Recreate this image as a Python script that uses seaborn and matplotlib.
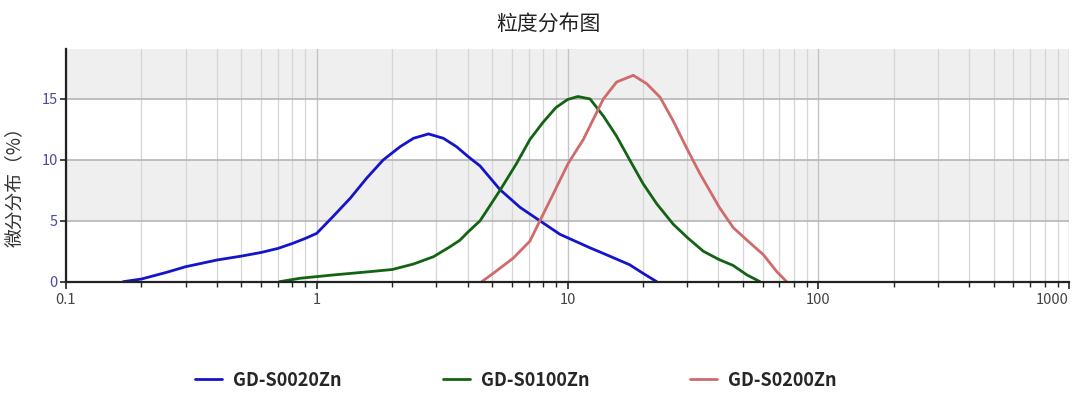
import numpy as np
import pandas as pd
import matplotlib
matplotlib.use("Agg")
import matplotlib.pyplot as plt
from matplotlib.ticker import LogLocator, FixedLocator, FixedFormatter, NullFormatter
import seaborn as sns

# ---------------- data ----------------
series_names = ["GD-S0020Zn", "GD-S0100Zn", "GD-S0200Zn"]

x_s0020 = [0.169, 0.2, 0.252, 0.3, 0.4, 0.5, 0.6, 0.7, 0.8, 0.9, 1.0, 1.16, 1.36, 1.58, 1.84,
           2.15, 2.43, 2.79, 3.2, 3.61, 4.02, 4.48, 5.38, 6.47, 7.76, 9.33, 12.3, 14.8, 17.7,
           20.0, 22.7]
y_s0020 = [0.0, 0.22, 0.77, 1.23, 1.78, 2.1, 2.4, 2.73, 3.14, 3.55, 3.97, 5.34, 6.85, 8.49, 9.99,
           11.08, 11.77, 12.13, 11.77, 11.08, 10.26, 9.5, 7.56, 6.1, 5.0, 3.89, 2.78, 2.08, 1.39,
           0.69, 0.0]

x_s0100 = [0.71, 0.857, 1.16, 1.58, 2.0, 2.43, 2.92, 3.4, 3.72, 4.02, 4.48, 5.38, 6.27, 7.08,
           8.0, 9.0, 10.0, 11.0, 12.3, 13.9, 15.7, 17.7, 20.0, 22.7, 26.4, 30.1, 34.8, 40.3,
           45.8, 51.9, 58.6]
y_s0100 = [0.0, 0.28, 0.55, 0.8, 1.0, 1.45, 2.05, 2.87, 3.4, 4.1, 5.0, 7.5, 9.72, 11.67,
           13.1, 14.3, 14.95, 15.2, 15.0, 13.6, 11.94, 10.0, 8.06, 6.39, 4.72, 3.61, 2.5, 1.81,
           1.33, 0.56, 0.0]

x_s0200 = [4.55, 5.06, 6.08, 7.08, 7.76, 8.77, 10.07, 11.56, 13.9, 15.7, 18.3, 20.7, 23.4,
           26.4, 30.1, 33.7, 40.3, 45.8, 53.4, 60.4, 68.3, 74.8]
y_s0200 = [0.0, 0.69, 1.94, 3.33, 5.0, 7.2, 9.72, 11.67, 15.0, 16.39, 16.94, 16.25, 15.14,
           13.19, 10.83, 8.89, 6.11, 4.44, 3.19, 2.22, 0.83, 0.0]

x_tick_values = [0.1, 1, 10, 100, 1000]
x_tick_labels = ["0.1", "1", "10", "100", "1000"]
y_tick_values = [0, 5, 10, 15]

title_text = "粒度分布图"
ylabel_text = "微分分布（%）"

# ---------------- style ----------------
sns.set_theme(style="white")
plt.rcParams["font.family"] = ["Noto Sans CJK SC", "DejaVu Sans"]

colors = ["#1414c8", "#136313", "#cf6b6b"]

df = pd.concat([
    pd.DataFrame({"x": x_s0020, "y": y_s0020, "series": series_names[0]}),
    pd.DataFrame({"x": x_s0100, "y": y_s0100, "series": series_names[1]}),
    pd.DataFrame({"x": x_s0200, "y": y_s0200, "series": series_names[2]}),
], ignore_index=True)

fig = plt.figure(figsize=(10.8, 4.03), dpi=100)
ax = fig.add_axes([66 / 1080, 1 - 281.7 / 403, (1069 - 66) / 1080, (281.7 - 49) / 403])

ymax = 19.1
ax.set_xscale("log")
ax.set_xlim(0.1, 1000)
ax.set_ylim(0, ymax)

# alternating background bands
for lo, hi in [(5, 10), (15, ymax)]:
    ax.axhspan(lo, hi, color="#efefef", zorder=0, lw=0)

sns.lineplot(data=df, x="x", y="y", hue="series", palette=colors, sort=False,
             estimator=None, units="series", lw=2.0, ax=ax, legend=False, zorder=3)
for ln in ax.lines:
    ln.set_solid_joinstyle("round")
    ln.set_solid_capstyle("round")

# grid
ax.xaxis.set_major_locator(FixedLocator(x_tick_values))
ax.xaxis.set_major_formatter(FixedFormatter(x_tick_labels))
ax.xaxis.set_minor_locator(LogLocator(base=10, subs=np.arange(2, 10), numticks=20))
ax.xaxis.set_minor_formatter(NullFormatter())
ax.grid(which="major", axis="x", color="#c4c4c4", lw=1.0, zorder=1)
ax.grid(which="minor", axis="x", color="#d6d6d6", lw=0.9, zorder=1)
ax.set_yticks(y_tick_values)
ax.grid(which="major", axis="y", color="#b5b5b5", lw=1.2, zorder=1)
ax.set_axisbelow(True)

for s in ["top", "right"]:
    ax.spines[s].set_visible(False)
for s in ["left", "bottom"]:
    ax.spines[s].set_color("#222222")
    ax.spines[s].set_linewidth(1.6)
    ax.spines[s].set_zorder(4)

ax.tick_params(axis="x", which="major", direction="out", length=5, width=1.2,
               color="#222222", labelsize=10.5, labelcolor="#444444", pad=3, bottom=True)
ax.tick_params(axis="x", which="minor", direction="out", length=3.5, width=1.0,
               color="#222222", bottom=True)
ax.tick_params(axis="y", which="major", direction="out", length=4, width=1.2,
               color="#222222", labelsize=10.5, labelcolor="#4a4aa0", pad=2, left=True)
xt_labels = ax.get_xticklabels()
xt_labels[-1].set_horizontalalignment("right")

ax.set_xlabel("")
ax.set_ylabel(ylabel_text, fontsize=13.5, color="#333333")
ax.yaxis.set_label_coords(-0.041, 0.43)

fig.text(548 / 1080, 1 - 25 / 403, title_text, ha="center", va="center",
         fontsize=15, color="#222222")

handles = [plt.Line2D([], [], color=c, lw=2.0) for c in colors]
fig.legend(handles, series_names, loc="center", bbox_to_anchor=(516 / 1080, 1 - 380 / 403),
           ncol=3, frameon=False, handlelength=1.5, handletextpad=0.6,
           columnspacing=5.6, prop={"weight": "bold", "size": 13})

fig.savefig("out.png", dpi=100)
